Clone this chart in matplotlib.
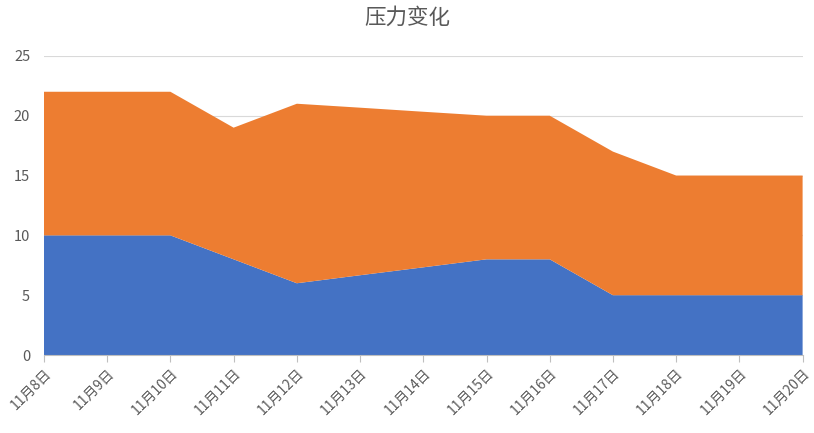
import matplotlib.pyplot as plt

plt.rcParams['font.family'] = ['Noto Sans CJK SC', 'DejaVu Sans']

dates = ["11月8日", "11月9日", "11月10日", "11月11日", "11月12日", "11月13日", "11月14日",
         "11月15日", "11月16日", "11月17日", "11月18日", "11月19日", "11月20日"]
low = [10, 10, 10, 8, 6, 6.67, 7.33, 8, 8, 5, 5, 5, 5]
high = [12, 12, 12, 11, 15, 14, 13, 12, 12, 12, 10, 10, 10]

fig = plt.figure(figsize=(8.14, 4.33), dpi=100)
ax = fig.add_axes([0.054, 0.180, 0.932, 0.691])

x = list(range(len(dates)))
ax.stackplot(x, low, high, colors=["#4472C4", "#ED7D31"], zorder=2)

ax.set_xlim(0, len(dates) - 1)
ax.set_ylim(0, 25)
ax.set_yticks([0, 5, 10, 15, 20, 25])
ax.yaxis.grid(True, color="#D9D9D9", linewidth=0.8, zorder=0)
ax.set_axisbelow(True)

ax.set_xticks(x)
ax.set_xticklabels(dates, rotation=45, ha="right", rotation_mode="anchor")
ax.tick_params(axis="x", colors="#BFBFBF", labelcolor="#595959", labelsize=10, length=5, pad=3)
ax.tick_params(axis="y", length=0, labelcolor="#595959", labelsize=10.5, pad=10)

for s in ["top", "right", "left"]:
    ax.spines[s].set_visible(False)
ax.spines["bottom"].set_color("#BFBFBF")

fig.text(0.5, 0.958, "压力变化", ha="center", va="center", fontsize=15.5, color="#595959")

fig.savefig("out.png", dpi=100)
